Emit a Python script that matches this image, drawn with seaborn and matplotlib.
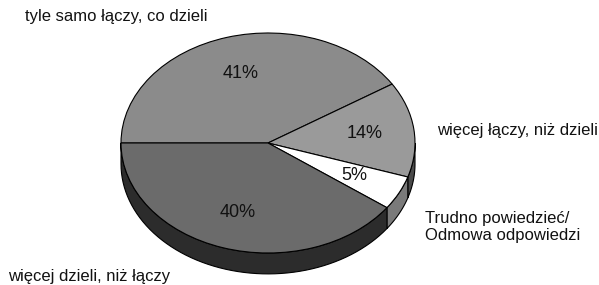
import numpy as np
import matplotlib
matplotlib.use("Agg")
import matplotlib.pyplot as plt
import seaborn as sns

# dane z wykresu
etykiety = ["tyle samo łączy, co dzieli", "więcej łączy, niż dzieli",
            "Trudno powiedzieć/\nOdmowa odpowiedzi", "więcej dzieli, niż łączy"]
procenty = [41, 14, 5, 40]
kolory_gora = ["#8b8b8b", "#9a9a9a", "#ffffff", "#6b6b6b"]
kolory_bok = ["#6b6b6b", "#4a4a4a", "#7a7a7a", "#2c2c2c"]

sns.set_theme(style="white")
plt.rcParams["font.family"] = ["Liberation Sans", "DejaVu Sans"]

fig = plt.figure(figsize=(5.99, 2.85), dpi=100)
ax = fig.add_axes([0, 0, 1, 1])

wedges, teksty, auto = ax.pie(procenty, startangle=180, counterclock=False,
                              colors=kolory_gora, autopct="%.0f%%", pctdistance=0.66,
                              wedgeprops=dict(edgecolor="black", linewidth=0.8),
                              textprops=dict(fontsize=13, color="#111111"))

# boczna scianka (efekt 3D) tylko dla dolnej polowy
glebokosc = 0.19
for w, kb in zip(wedges, kolory_bok):
    for lo, hi in [(-180, 0), (180, 360)]:
        a = max(w.theta1, lo)
        b = min(w.theta2, hi)
        if b <= a:
            continue
        t = np.radians(np.linspace(a, b, 60))
        xs = np.concatenate([np.cos(t), np.cos(t[::-1])])
        ys = np.concatenate([np.sin(t), np.sin(t[::-1]) - glebokosc])
        ax.fill(xs, ys, color=kb, edgecolor="black", linewidth=0.8, zorder=0.5)

ax.set_aspect("auto")
ax.set_xlim(-268 / 147, (599 - 268) / 147)
ax.set_ylim(-142 / 110, 143 / 110)
ax.axis("off")

poz = [(25, 17), (437, 130), (425, 227), (8, 276)]
for et, (px, py) in zip(etykiety, poz):
    ax.text(px / 599, 1 - py / 285, et, transform=ax.transAxes, fontsize=12,
            ha="left", va="center", color="#111111", linespacing=1.15)

fig.savefig("out.png", dpi=100)
